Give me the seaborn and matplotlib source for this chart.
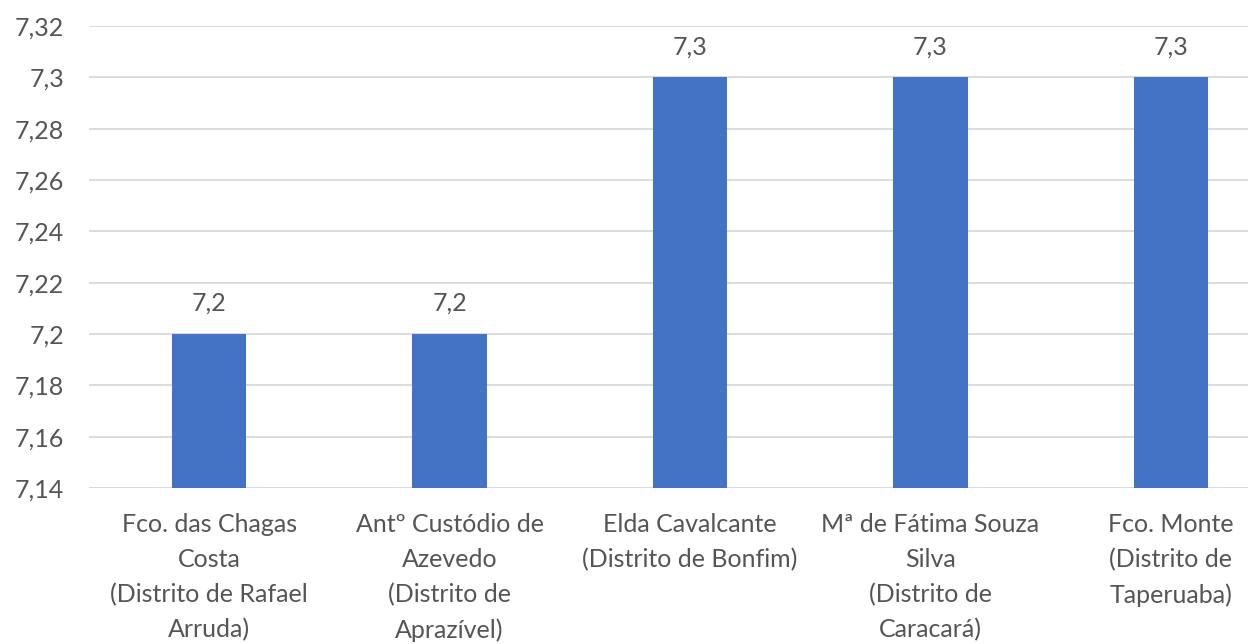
import pandas as pd
import seaborn as sns
import matplotlib.pyplot as plt
from matplotlib.ticker import FuncFormatter, MultipleLocator

# Dados
escolas = [
    "Fco. das Chagas\nCosta\n(Distrito de Rafael\nArruda)",
    "Antº Custódio de\nAzevedo\n(Distrito de\nAprazível)",
    "Elda Cavalcante\n(Distrito de Bonfim)",
    "Mª de Fátima Souza\nSilva\n(Distrito de\nCaracará)",
    "Fco. Monte\n(Distrito de\nTaperuaba)",
]
notas = [7.2, 7.2, 7.3, 7.3, 7.3]

df = pd.DataFrame({"escola": escolas, "nota": notas})

sns.set_style("white")
plt.rcParams['font.family'] = ['Lato', 'DejaVu Sans']

fig = plt.figure(figsize=(12.48, 6.44), dpi=100)
ax = fig.add_axes([89 / 1248, 1 - 488 / 644, 1202 / 1248, 462 / 644])

sns.barplot(data=df, x="escola", y="nota", color="#4472C4", width=0.31,
            saturation=1, linewidth=0, ax=ax, zorder=3)

ax.set_ylim(7.14, 7.32)
ax.yaxis.set_major_locator(MultipleLocator(0.02))


def fmt(v, pos):
    s = f"{v:.2f}".rstrip('0').rstrip('.')
    return s.replace('.', ',')


ax.yaxis.set_major_formatter(FuncFormatter(fmt))
ax.grid(axis='y', color='#d9d9d9', linewidth=1.3, zorder=0)
ax.grid(axis='x', visible=False)
for s in ax.spines.values():
    s.set_visible(False)
ax.axhline(7.14, color='#d9d9d9', linewidth=1.3, zorder=1)

texto = '#555555'
ax.tick_params(axis='y', length=0, labelsize=18, colors=texto, pad=18)
ax.tick_params(axis='x', length=0, labelsize=18, colors=texto, pad=18)
ax.set_xlabel("")
ax.set_ylabel("")
for lbl in ax.get_xticklabels():
    lbl.set_linespacing(1.62)

# Rótulos de dados
for i, v in enumerate(notas):
    ax.annotate(f"{v:.1f}".replace('.', ','), (i, v), xytext=(0, 22),
                textcoords='offset points', ha='center', va='center',
                fontsize=18, color=texto)

fig.savefig("out.png", dpi=100)
